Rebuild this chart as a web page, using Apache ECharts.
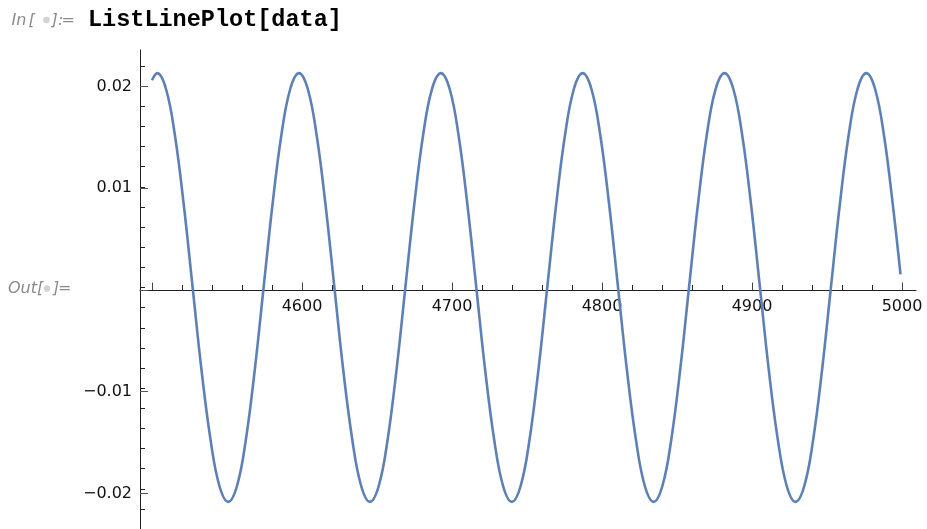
<!DOCTYPE html>
<html>
<head>
<meta charset="utf-8">
<script src="https://cdn.jsdelivr.net/npm/echarts@6.0.0/dist/echarts.min.js"></script>
<style>
  html, body { margin: 0; padding: 0; background: #ffffff; }
  #chart { width: 927px; height: 529px; }
</style>
</head>
<body>
<div id="chart"></div>
<script>
const xs = [
  4500,
  4503.5, 4509.4, 4515.3, 4521.2, 4527.1, 4533.0, 4539.0, 4544.9, 4550.8, 4556.7, 4562.6, 4568.5, 4574.4, 4580.3, 4586.2, 4592.1,
  4598.0, 4603.9, 4609.8, 4615.7, 4621.6, 4627.5, 4633.5, 4639.4, 4645.3, 4651.2, 4657.1, 4663.0, 4668.9, 4674.8, 4680.7, 4686.6,
  4692.6, 4698.5, 4704.4, 4710.3, 4716.2, 4722.1, 4728.1, 4734.0, 4739.9, 4745.8, 4751.7, 4757.6, 4763.5, 4769.4, 4775.3, 4781.2,
  4787.1, 4793.0, 4798.9, 4804.8, 4810.7, 4816.6, 4822.6, 4828.5, 4834.4, 4840.3, 4846.2, 4852.1, 4858.0, 4863.9, 4869.8, 4875.7,
  4881.7, 4887.6, 4893.5, 4899.4, 4905.3, 4911.2, 4917.2, 4923.1, 4929.0, 4934.9, 4940.8, 4946.7, 4952.6, 4958.5, 4964.4, 4970.3,
  4976.2, 4982.1, 4988.0, 4993.9, 4999
];
// y values at those positions
const ys = [
  0.0206,
  0.0213, 0.0197, 0.0151, 0.0082, 0, -0.0082, -0.0151, -0.0197, -0.0213, -0.0197, -0.0151, -0.0082, 0, 0.0082, 0.0151, 0.0197,
  0.0213, 0.0197, 0.0151, 0.0082, 0, -0.0082, -0.0151, -0.0197, -0.0213, -0.0197, -0.0151, -0.0082, 0, 0.0082, 0.0151, 0.0197,
  0.0213, 0.0197, 0.0151, 0.0082, 0, -0.0082, -0.0151, -0.0197, -0.0213, -0.0197, -0.0151, -0.0082, 0, 0.0082, 0.0151, 0.0197,
  0.0213, 0.0197, 0.0151, 0.0082, 0, -0.0082, -0.0151, -0.0197, -0.0213, -0.0197, -0.0151, -0.0082, 0, 0.0082, 0.0151, 0.0197,
  0.0213, 0.0197, 0.0151, 0.0082, 0, -0.0082, -0.0151, -0.0197, -0.0213, -0.0197, -0.0151, -0.0082, 0, 0.0082, 0.0151, 0.0197,
  0.0213, 0.0197, 0.0151, 0.0082, 0.0013
];
// tick labels
const xTickLabels = [4600, 4700, 4800, 4900, 5000];
const yTickLabels = [-0.02, -0.01, 0.01, 0.02];

const inputText = 'ListLinePlot[data]';

const AXIS = '#222222';
const LABEL_FONT = 'DejaVu Sans';

const chart = echarts.init(document.getElementById('chart'), null, { renderer: 'canvas' });

function fmtY(v) {
  if (!yTickLabels.some(t => Math.abs(t - v) < 1e-9)) return '';
  return (v < 0 ? '\u2212' : '') + Math.abs(v).toFixed(2);
}
function fmtX(v) {
  return xTickLabels.indexOf(Math.round(v)) >= 0 ? String(Math.round(v)) : '';
}

const grayText = { font: 'italic 16px "DejaVu Sans"', fill: '#8a8a8a', verticalAlign: 'middle', align: 'left' };
const grayPiece = (text, x, y) => ({ type: 'text', z: 101, x: x, y: y, style: Object.assign({ text: text }, grayText) });
const hiddenY = (g) => ({ gridIndex: g, type: 'value', min: -1, max: 1, show: false });

const option = {
  backgroundColor: '#ffffff',
  animation: false,
  grid: [
    { left: 140, right: 11, top: 46, bottom: -5 },          // 0: data + y minor ticks + y axis line
    { left: 140, right: 11, top: 86.64, bottom: 35.64 },    // 1: y major ticks + labels
    { left: 140, right: 11, top: 20, bottom: 239 },         // 2: x axis line
    { left: 152, right: 25, top: 20, bottom: 239 },         // 3: x minor ticks
    { left: 152, right: 25, top: 20, bottom: 239 }          // 4: x major ticks + labels
  ],
  xAxis: [
    { gridIndex: 0, type: 'value', min: 4492, max: 5009.33, show: false },
    { gridIndex: 1, type: 'value', min: 4492, max: 5009.33, show: false },
    { gridIndex: 2, type: 'value', min: 4492, max: 5009.33, position: 'bottom',
      axisLine: { show: true, onZero: false, lineStyle: { color: AXIS, width: 1 } },
      axisTick: { show: false }, axisLabel: { show: false }, splitLine: { show: false } },
    { gridIndex: 3, type: 'value', min: 4500, max: 5000, interval: 20, position: 'bottom',
      axisLine: { show: false, onZero: false },
      axisTick: { show: true, inside: true, length: 5, lineStyle: { color: AXIS, width: 1 } },
      axisLabel: { show: false }, splitLine: { show: false } },
    { gridIndex: 4, type: 'value', min: 4500, max: 5000, interval: 100, position: 'bottom',
      axisLine: { show: false, onZero: false },
      axisTick: { show: true, inside: true, length: 7.5, lineStyle: { color: '#444', width: 1 } },
      axisLabel: { show: true, margin: 9, formatter: fmtX, fontFamily: LABEL_FONT, fontSize: 16, color: '#111' },
      splitLine: { show: false } }
  ],
  yAxis: [
    { gridIndex: 0, type: 'value', min: -0.024, max: 0.024, interval: 0.002,
      axisLine: { show: true, onZero: false, lineStyle: { color: AXIS, width: 1 } },
      axisTick: { show: true, inside: true, length: 5, lineStyle: { color: AXIS, width: 1 } },
      axisLabel: { show: false }, splitLine: { show: false } },
    { gridIndex: 1, type: 'value', min: -0.02, max: 0.02, interval: 0.01,
      axisLine: { show: false, onZero: false },
      axisTick: { show: true, inside: true, length: 8, lineStyle: { color: '#555', width: 1 } },
      axisLabel: { show: true, margin: 8, formatter: fmtY, fontFamily: LABEL_FONT, fontSize: 16, color: '#111' },
      splitLine: { show: false } },
    hiddenY(2), hiddenY(3), hiddenY(4)
  ],
  series: [
    {
      type: 'line',
      xAxisIndex: 0,
      yAxisIndex: 0,
      data: xs.map((x, i) => [x, ys[i]]),
      showSymbol: false,
      smooth: 0.4,
      clip: true,
      lineStyle: { color: '#5E81B5', width: 2.6 },
      z: 3
    }
  ],
  graphic: [
    { type: 'rect', z: 100, shape: { x: 128, y: 38, width: 30, height: 11.5 }, style: { fill: '#ffffff' } },
    grayPiece('In', 11.5, 20.5),
    grayPiece('[', 28.5, 20.5),
    { type: 'circle', z: 101, shape: { cx: 46.5, cy: 20, r: 3.3 }, style: { fill: '#d2d2d2' } },
    grayPiece(']', 51.5, 20.5),
    grayPiece(':', 58, 20.5),
    grayPiece('=', 61.5, 20.5),
    { type: 'text', z: 101, x: 88, y: 20, style: { text: inputText, font: 'bold 23.5px "Liberation Mono"', fill: '#000', verticalAlign: 'middle', align: 'left' } },
    grayPiece('Out[', 8, 288.8),
    { type: 'circle', z: 101, shape: { cx: 47, cy: 288.5, r: 3.3 }, style: { fill: '#d2d2d2' } },
    grayPiece(']', 53, 288.8),
    grayPiece('=', 58, 288.8)
  ]
};

chart.setOption(option);
</script>
</body>
</html>
